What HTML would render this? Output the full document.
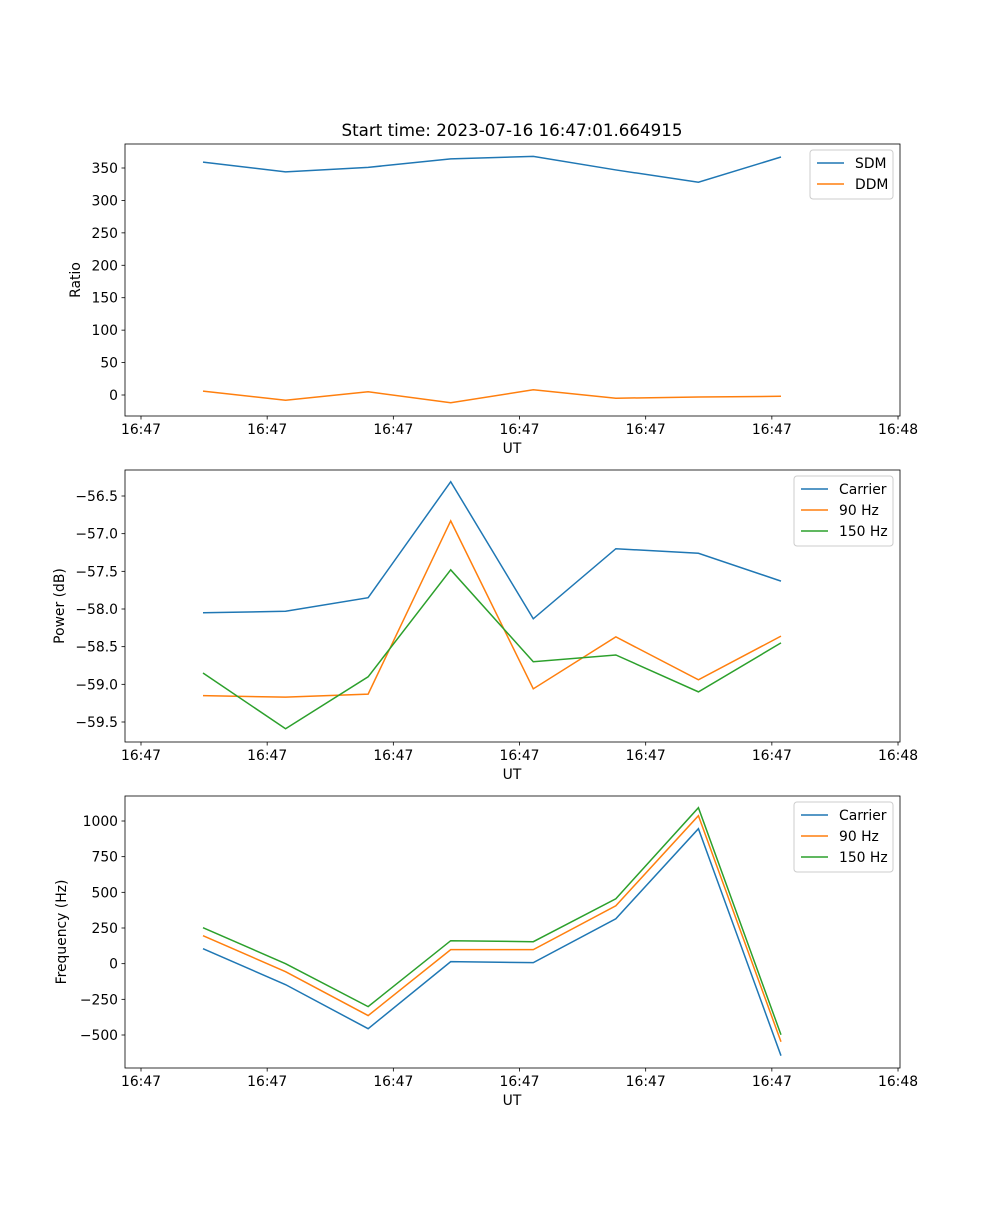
<!DOCTYPE html>
<html><head><meta charset="utf-8"><style>
body{margin:0;background:#fff}
svg text{font-family:"DejaVu Sans","Liberation Sans",sans-serif;font-size:13.9px;fill:#000}
</style></head><body>
<svg id="fig" width="1000" height="1200" xmlns="http://www.w3.org/2000/svg">
<rect width="1000" height="1200" fill="#fff"/>
<text x="512" y="136" text-anchor="middle" style="font-size:16.7px">Start time: 2023-07-16 16:47:01.664915</text>
</svg>
<script>
const xLabels=["16:47","16:47","16:47","16:47","16:47","16:47","16:48"];
const sdm=[359,344,351,364,368,347,328,367];
const ddm=[6,-8,5,-12,8,-5,-3,-2];
const pCarrier=[-58.05,-58.03,-57.85,-56.31,-58.13,-57.20,-57.26,-57.63];
const p90=[-59.15,-59.17,-59.13,-56.83,-59.06,-58.37,-58.94,-58.36];
const p150=[-58.85,-59.59,-58.90,-57.48,-58.70,-58.61,-59.10,-58.45];
const fCarrier=[105,-147,-456,14,7,315,946,-645];
const f90=[196,-56,-364,98,98,406,1037,-547];
const f150=[252,0,-301,161,154,455,1093,-498];
const ticks1=[0,50,100,150,200,250,300,350];
const ticks2=[-59.5,-59.0,-58.5,-58.0,-57.5,-57.0,-56.5];
const ticks3=[-500,-250,0,250,500,750,1000];

const NS="http://www.w3.org/2000/svg";
const svg=document.getElementById('fig');
const C={b:"#1f77b4",o:"#ff7f0e",g:"#2ca02c"};
function el(t,a,p){const e=document.createElementNS(NS,t);for(const k in a)e.setAttribute(k,a[k]);(p||svg).appendChild(e);return e;}
const X0=125,X1=900;
function xPt(i){return 203+i*82.57;}
function xTick(j){return 141+j*126.17;}
function panel(name,top,bottom,y0v,y0p,y1v,y1p,ticks,fmt,ylabel,ylabX,series,legW){
  const g=el('g',{});
  
  
  const ys=v=>y0p+(v-y0v)*(y1p-y0p)/(y1v-y0v);
  ticks.forEach(t=>{const y=ys(t);
    el('line',{x1:X0-3.5,x2:X0,y1:y,y2:y,stroke:'#000','stroke-width':0.8},g);
    const tx=el('text',{x:X0-7,y:y+5,'text-anchor':'end'},g);tx.textContent=fmt(t);
    
    });
  xLabels.forEach((l,j)=>{const x=xTick(j);
    el('line',{x1:x,x2:x,y1:bottom,y2:bottom+3.5,stroke:'#000','stroke-width':0.8},g);
    const tx=el('text',{x:x,y:bottom+18,'text-anchor':'middle'},g);tx.textContent=l;
    
    });
  series.forEach(s=>{
    const pl=el('polyline',{points:s.d.map((v,i)=>xPt(i)+','+ys(v)).join(' '),fill:'none',stroke:s.c,'stroke-width':1.5},g);
    
    });
  el('rect',{x:X0,y:top,width:X1-X0,height:bottom-top,fill:'none',stroke:'#000','stroke-width':0.8},g);
  const xl=el('text',{x:512,y:bottom+37,'text-anchor':'middle'},g);xl.textContent='UT';
  
  
  const cy=(top+bottom)/2;
  const yl=el('text',{x:ylabX,y:cy,'text-anchor':'middle',transform:`rotate(-90 ${ylabX} ${cy})`},g);yl.textContent=ylabel;
  
  
  const lg=el('g',{},g);
  
  
  const lx=893-legW,ly=top+6;
  el('rect',{x:lx,y:ly,width:legW,height:series.length*21+7,rx:3,fill:'#fff','fill-opacity':0.8,stroke:'#ccc'},lg);
  series.forEach((s,k)=>{const yy=ly+13+k*21;
    el('line',{x1:lx+7,x2:lx+34,y1:yy,y2:yy,stroke:s.c,'stroke-width':1.5},lg);
    const t=el('text',{x:lx+45,y:yy+5},lg);t.textContent=s.n;
    
    });
}
panel('ratio-panel',144,416,0,395,350,168,ticks1,v=>String(v),'Ratio',80,
  [{n:'SDM',d:sdm,c:C.b},{n:'DDM',d:ddm,c:C.o}],83);
panel('power-panel',470,742,-59.5,722,-56.5,496,ticks2,v=>v.toFixed(1).replace('-','\u2212'),'Power (dB)',64,
  [{n:'Carrier',d:pCarrier,c:C.b},{n:'90 Hz',d:p90,c:C.o},{n:'150 Hz',d:p150,c:C.g}],99);
panel('frequency-panel',796,1068,-500,1035,1000,821,ticks3,v=>String(v).replace('-','\u2212'),'Frequency (Hz)',66,
  [{n:'Carrier',d:fCarrier,c:C.b},{n:'90 Hz',d:f90,c:C.o},{n:'150 Hz',d:f150,c:C.g}],99);
</script>
</body></html>
